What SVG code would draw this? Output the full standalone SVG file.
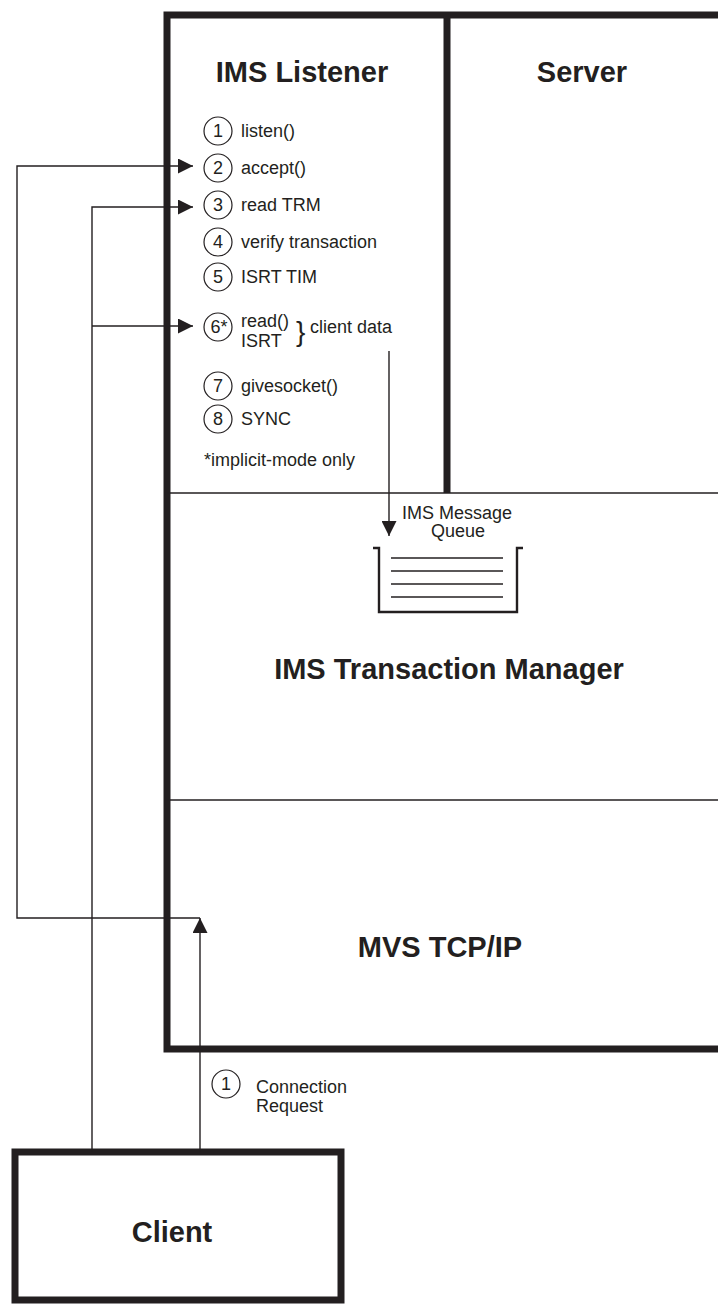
<svg xmlns="http://www.w3.org/2000/svg" width="718" height="1310" viewBox="0 0 718 1310">
<style>
.thick{fill:none;stroke:#231f20;stroke-width:7}
.thin{fill:none;stroke:#231f20;stroke-width:1.5}
.conn{fill:none;stroke:#231f20;stroke-width:1.4}
.circ{fill:none;stroke:#231f20;stroke-width:1.2}
.t{font-family:"Liberation Sans",Arial,sans-serif;font-size:18px;fill:#231f20}
.c{text-anchor:middle}
.title{font-family:"Liberation Sans",Arial,sans-serif;font-size:29px;font-weight:bold;fill:#231f20;text-anchor:middle}
</style>
<defs>
<marker id="arr" viewBox="0 0 15 15" refX="15" refY="7.5" markerWidth="15" markerHeight="15" markerUnits="userSpaceOnUse" orient="auto">
<path d="M0,0 L15,7.5 L0,15 z" fill="#231f20"/>
</marker>
</defs>
<rect width="718" height="1310" fill="#ffffff"/>

<g id="frame">
<path class="thick" d="M725,15 L167,15 L167,1049 L725,1049"/>
<line class="thick" x1="447" y1="15" x2="447" y2="493"/>
<line class="thin" x1="167" y1="493" x2="718" y2="493"/>
<line class="thin" x1="167" y1="800" x2="718" y2="800"/>
</g>

<g id="ims-listener">
<text class="title" x="302" y="82">IMS Listener</text>
<g id="step1"><circle class="circ" cx="218" cy="131" r="14"/><text class="t c" x="218" y="137">1</text><text class="t" x="241" y="137">listen()</text></g>
<g id="step2"><circle class="circ" cx="218" cy="168" r="14"/><text class="t c" x="218" y="174">2</text><text class="t" x="241" y="174">accept()</text></g>
<g id="step3"><circle class="circ" cx="218" cy="205" r="14"/><text class="t c" x="218" y="211">3</text><text class="t" x="241" y="211">read TRM</text></g>
<g id="step4"><circle class="circ" cx="218" cy="242" r="14"/><text class="t c" x="218" y="248">4</text><text class="t" x="241" y="248">verify transaction</text></g>
<g id="step5"><circle class="circ" cx="218" cy="277" r="14"/><text class="t c" x="218" y="283">5</text><text class="t" x="241" y="283">ISRT TIM</text></g>
<g id="step6"><circle class="circ" cx="218" cy="327" r="14"/><text class="t c" x="219" y="333">6*</text><text class="t" x="241" y="327">read()</text><text class="t" x="241" y="347">ISRT</text><text class="t" x="296" y="341" style="font-size:28px">}</text><text class="t" x="310" y="333">client data</text></g>
<g id="step7"><circle class="circ" cx="218" cy="386" r="14"/><text class="t c" x="218" y="392">7</text><text class="t" x="241" y="392">givesocket()</text></g>
<g id="step8"><circle class="circ" cx="218" cy="419" r="14"/><text class="t c" x="218" y="425">8</text><text class="t" x="241" y="425">SYNC</text></g>
<text class="t" x="204" y="466">*implicit-mode only</text>
</g>

<g id="server">
<text class="title" x="582" y="82">Server</text>
</g>

<g id="ims-tm">
<text class="title" x="449" y="679">IMS Transaction Manager</text>
</g>

<g id="queue">
<text class="t c" x="457" y="519">IMS Message</text>
<text class="t c" x="458" y="537">Queue</text>
<path fill="none" stroke="#231f20" stroke-width="2.4" d="M373,548 L379,548 L379,612 L517,612 L517,548 L523,548"/>
<g class="thin">
<line x1="391" y1="558" x2="503" y2="558"/>
<line x1="391" y1="571" x2="503" y2="571"/>
<line x1="391" y1="584" x2="503" y2="584"/>
<line x1="391" y1="597" x2="503" y2="597"/>
</g>
</g>

<g id="mvs-tcpip">
<text class="title" x="440" y="957">MVS TCP/IP</text>
</g>

<g id="client">
<rect class="thick" x="15" y="1152" width="326" height="148"/>
<text class="title" x="172" y="1242">Client</text>
</g>

<g id="conn-label">
<circle class="circ" cx="226" cy="1084" r="14"/><text class="t c" x="226" y="1090">1</text>
<text class="t" x="256" y="1093">Connection</text>
<text class="t" x="256" y="1112">Request</text>
</g>

<g id="connectors">
<path class="conn" d="M200,1152 L200,918" marker-end="url(#arr)"/>
<path class="conn" d="M200,918 L17,918 L17,166 L193,166" marker-end="url(#arr)"/>
<path class="conn" d="M92,1152 L92,207 L193,207" marker-end="url(#arr)"/>
<path class="conn" d="M92,326 L193,326" marker-end="url(#arr)"/>
<path class="conn" d="M389,351 L389,536" marker-end="url(#arr)"/>
</g>
</svg>
